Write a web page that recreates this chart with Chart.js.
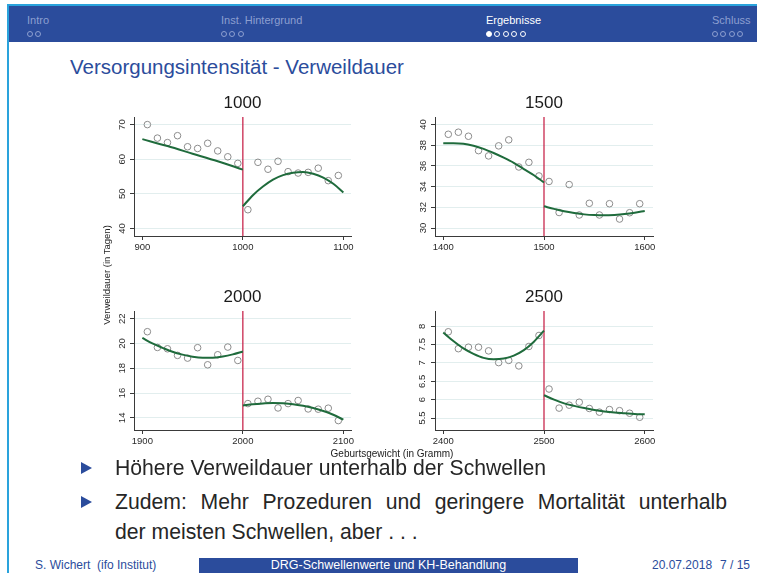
<!DOCTYPE html>
<html>
<head>
<meta charset="utf-8">
<script src="https://cdn.jsdelivr.net/npm/chart.js@4.4.0/dist/chart.umd.min.js"></script>
<style>
  html, body { margin: 0; padding: 0; }
  body { width: 757px; height: 573px; position: relative; overflow: hidden; background: #fff;
         font-family: "Liberation Sans", Arial, sans-serif; }
  .frameTop { position: absolute; left: 7px; top: 4px; width: 750px; height: 2px; background: #2aa3dc; }
  .frameLeft { position: absolute; left: 7px; top: 4px; width: 2px; height: 569px; background: #2aa3dc; }
  .head { position: absolute; left: 9px; top: 6px; width: 748px; height: 36px; background: #2b4c9c; }
  .nav { position: absolute; top: 14px; font-size: 11px; line-height: 13px; color: #8d9fd0; white-space: nowrap; }
  .nav.on { color: #fff; }
  .dots { height: 8px; margin-top: 4px; }
  .dot { display: inline-block; width: 6px; height: 6px; box-sizing: border-box; border: 1px solid currentColor;
         border-radius: 50%; margin-right: 2.4px; vertical-align: top; }
  .dot.full { background: currentColor; }
  .title { position: absolute; left: 70px; top: 54px; font-size: 20.5px; line-height: 26px; color: #2b4c9c; white-space: nowrap; }
  canvas { position: absolute; }
  .ylab { position: absolute; left: 106px; top: 275px; font-size: 9.5px; color: #222; white-space: nowrap;
          transform: translate(-50%, -50%) rotate(-90deg); }
  .xlab { position: absolute; left: 392px; top: 453px; font-size: 10px; color: #222; white-space: nowrap;
          transform: translate(-50%, -50%); }
  .bullet { position: absolute; width: 0; height: 0; border-left: 11px solid #2b4c9c;
            border-top: 6px solid transparent; border-bottom: 6px solid transparent; }
  .txt { position: absolute; left: 115px; font-size: 21.2px; line-height: 28px; color: #262626; white-space: nowrap; }
  .foot { position: absolute; top: 558px; font-size: 12px; line-height: 15px; color: #2b4c9c; white-space: nowrap; }
  .footBox { position: absolute; left: 199px; top: 558px; width: 379px; height: 15px; background: #2b4c9c;
             color: #fff; font-size: 12.5px; line-height: 15px; text-align: center; }
</style>
</head>
<body>
<div class="frameTop"></div>
<div class="frameLeft"></div>
<div class="head"></div>
<div class="nav" style="left:27px">Intro<div class="dots"><span class="dot"></span><span class="dot"></span></div></div>
<div class="nav" style="left:221px">Inst. Hintergrund<div class="dots"><span class="dot"></span><span class="dot"></span><span class="dot"></span></div></div>
<div class="nav on" style="left:486px">Ergebnisse<div class="dots"><span class="dot full"></span><span class="dot"></span><span class="dot"></span><span class="dot"></span><span class="dot"></span></div></div>
<div class="nav" style="left:712px">Schluss<div class="dots"><span class="dot"></span><span class="dot"></span><span class="dot"></span><span class="dot"></span></div></div>

<div class="title">Versorgungsintensität - Verweildauer</div>

<canvas id="c1000"></canvas>
<canvas id="c1500"></canvas>
<canvas id="c2000"></canvas>
<canvas id="c2500"></canvas>
<div class="ylab">Verweildauer (in Tagen)</div>
<div class="xlab">Geburtsgewicht (in Gramm)</div>

<div class="bullet" style="left:81px; top:462px"></div>
<div class="txt" style="top:454px">Höhere Verweildauer unterhalb der Schwellen</div>
<div class="bullet" style="left:81px; top:496px"></div>
<div class="txt" style="top:488px; width:612px; text-align:justify; text-align-last:justify">Zudem: Mehr Prozeduren und geringere Mortalität unterhalb</div>
<div class="txt" style="top:518px">der meisten Schwellen, aber . . .</div>

<div class="foot" style="left:35px">S. Wichert&nbsp; (ifo Institut)</div>
<div class="footBox">DRG-Schwellenwerte und KH-Behandlung</div>
<div class="foot" style="left:652px">20.07.2018</div>
<div class="foot" style="left:720px">7 / 15</div>

<script>
// Schwelle 1000 g
const bins1000 = [905, 915, 925, 935, 945, 955, 965, 975, 985, 995, 1005, 1015, 1025, 1035, 1045, 1055, 1065, 1075, 1085, 1095];
const dauer1000 = [70.0, 66.1, 64.8, 66.8, 63.6, 63.1, 64.6, 62.4, 60.7, 58.8, 45.4, 59.1, 57.1, 59.4, 56.4, 56.0, 56.2, 57.4, 53.8, 55.3];
const fitLx1000 = [900, 925, 950, 975, 1000];
const fitLy1000 = [65.8, 63.8, 61.6, 59.4, 57.0];
const fitRx1000 = [1000, 1010, 1020, 1030, 1040, 1050, 1060, 1070, 1080, 1090, 1100];
const fitRy1000 = [46.4, 49.6, 52.1, 54.1, 55.4, 56.1, 56.3, 55.8, 54.7, 52.9, 50.4];
const xTicks1000 = [900, 1000, 1100];
const yTicks1000 = [40, 50, 60, 70];

// Schwelle 1500 g
const bins1500 = [1405, 1415, 1425, 1435, 1445, 1455, 1465, 1475, 1485, 1495, 1505, 1515, 1525, 1535, 1545, 1555, 1565, 1575, 1585, 1595];
const dauer1500 = [39.06, 39.26, 38.87, 37.48, 36.97, 37.94, 38.52, 35.9, 36.35, 35.03, 34.5, 31.5, 34.2, 31.26, 32.39, 31.26, 32.35, 30.87, 31.48, 32.35];
const fitLx1500 = [1400, 1410, 1420, 1430, 1440, 1450, 1460, 1470, 1480, 1490, 1500];
const fitLy1500 = [38.2, 38.2, 38.15, 37.95, 37.65, 37.25, 36.8, 36.3, 35.7, 35.1, 34.4];
const fitRx1500 = [1500, 1510, 1520, 1530, 1540, 1550, 1560, 1570, 1580, 1590, 1600];
const fitRy1500 = [32.1, 31.85, 31.62, 31.45, 31.32, 31.25, 31.23, 31.27, 31.35, 31.48, 31.65];
const xTicks1500 = [1400, 1500, 1600];
const yTicks1500 = [30, 32, 34, 36, 38, 40];

// Schwelle 2000 g
const bins2000 = [1905, 1915, 1925, 1935, 1945, 1955, 1965, 1975, 1985, 1995, 2005, 2015, 2025, 2035, 2045, 2055, 2065, 2075, 2085, 2095];
const dauer2000 = [20.95, 19.68, 19.57, 19.04, 18.82, 19.66, 18.28, 19.09, 19.71, 18.63, 15.15, 15.34, 15.5, 14.8, 15.15, 15.4, 14.72, 14.7, 14.78, 13.78];
const fitLx2000 = [1900, 1910, 1920, 1930, 1940, 1950, 1960, 1970, 1980, 1990, 2000];
const fitLy2000 = [20.45, 20.0, 19.65, 19.33, 19.1, 18.93, 18.85, 18.85, 18.95, 19.12, 19.35];
const fitRx2000 = [2000, 2010, 2020, 2030, 2040, 2050, 2060, 2070, 2080, 2090, 2100];
const fitRy2000 = [15.0, 15.1, 15.16, 15.2, 15.17, 15.1, 14.97, 14.8, 14.55, 14.25, 13.85];
const xTicks2000 = [1900, 2000, 2100];
const yTicks2000 = [14, 16, 18, 20, 22];

// Schwelle 2500 g
const bins2500 = [2405, 2415, 2425, 2435, 2445, 2455, 2465, 2475, 2485, 2495, 2505, 2515, 2525, 2535, 2545, 2555, 2565, 2575, 2585, 2595];
const dauer2500 = [7.85, 7.39, 7.43, 7.43, 7.33, 7.01, 7.07, 6.92, 7.45, 7.75, 6.29, 5.77, 5.85, 5.93, 5.76, 5.66, 5.73, 5.70, 5.63, 5.52];
const fitLx2500 = [2400, 2410, 2420, 2430, 2440, 2450, 2460, 2470, 2480, 2490, 2500];
const fitLy2500 = [7.83, 7.6, 7.4, 7.25, 7.14, 7.1, 7.12, 7.2, 7.35, 7.58, 7.88];
const fitRx2500 = [2500, 2510, 2520, 2530, 2540, 2550, 2560, 2570, 2580, 2590, 2600];
const fitRy2500 = [6.12, 6.0, 5.9, 5.83, 5.77, 5.72, 5.68, 5.65, 5.63, 5.61, 5.6];
const xTicks2500 = [2400, 2500, 2600];
const yTicks2500 = [5.5, 6, 6.5, 7, 7.5, 8];

const GREEN = '#1f6b3c';
const RED = '#c4163f';
const AXIS = '#3a3a3a';
const GRID = '#e2eeee';
const FONT = '"Liberation Sans", Arial, sans-serif';

const zip = (xs, ys) => xs.map((x, i) => ({ x: x, y: ys[i] }));

// title over the plot region, like stata's subgraph titles
const panelTitle = {
  id: 'panelTitle',
  afterDraw(chart, args, opts) {
    const { ctx, chartArea } = chart;
    ctx.save();
    ctx.font = '17px ' + FONT;
    ctx.fillStyle = '#1a1a1a';
    ctx.textAlign = 'center';
    ctx.textBaseline = 'middle';
    ctx.fillText(opts.text, (chartArea.left + chartArea.right) / 2, chartArea.top - 14);
    ctx.restore();
  }
};

function makePanel(id, p) {
  const cv = document.getElementById(id);
  const yw = 40, padTop = 30, padRight = 24, xh = 20;
  const [l, t, r, b] = p.box;
  const w = Math.round(r - l + yw + padRight);
  const h = Math.round(b - t + padTop + xh);
  cv.style.left = Math.round(l - yw) + 'px';
  cv.style.top = Math.round(t - padTop) + 'px';
  cv.width = w; cv.height = h;
  cv.style.width = w + 'px'; cv.style.height = h + 'px';

  new Chart(cv, {
    type: 'scatter',
    data: {
      datasets: [
        { data: zip(p.fitLx, p.fitLy), showLine: true, borderColor: GREEN, borderWidth: 2,
          pointRadius: 0, cubicInterpolationMode: 'monotone' },
        { data: zip(p.fitRx, p.fitRy), showLine: true, borderColor: GREEN, borderWidth: 2,
          pointRadius: 0, cubicInterpolationMode: 'monotone' },
        { data: zip(p.binX, p.binY), pointRadius: 3.3, pointBorderWidth: 1,
          pointBorderColor: '#8c8c8c', pointBackgroundColor: 'rgba(0,0,0,0)' },
        { data: [{ x: p.cut, y: p.yMin }, { x: p.cut, y: p.yMax }], showLine: true,
          borderColor: RED, borderWidth: 1.2, pointRadius: 0 }
      ]
    },
    options: {
      responsive: false,
      animation: false,
      devicePixelRatio: 1,
      layout: { padding: { top: padTop, right: padRight, left: 0, bottom: 0 } },
      plugins: {
        legend: { display: false },
        tooltip: { enabled: false },
        panelTitle: { text: p.title }
      },
      scales: {
        x: {
          type: 'linear', min: p.xMin, max: p.xMax,
          afterBuildTicks: ax => { ax.ticks = p.xTicks.map(v => ({ value: v })); },
          afterFit: s => { s.height = xh; },
          grid: { drawOnChartArea: false, tickLength: 4, tickColor: AXIS },
          border: { color: AXIS, width: 1 },
          ticks: { color: '#2a2a2a', font: { family: FONT, size: 9.5 }, padding: 2, maxRotation: 0, autoSkip: false,
                   callback: v => String(v) }
        },
        y: {
          type: 'linear', min: p.yMin, max: p.yMax,
          afterBuildTicks: ax => { ax.ticks = p.yTicks.map(v => ({ value: v })); },
          afterFit: s => { s.width = yw; },
          grid: { color: GRID, lineWidth: 1, tickLength: 4, tickColor: AXIS },
          border: { color: AXIS, width: 1 },
          ticks: { color: '#2a2a2a', font: { family: FONT, size: 9.5 }, padding: 2,
                   minRotation: 90, maxRotation: 90, crossAlign: 'center', autoSkip: false,
                   callback: v => String(v) }
        }
      }
    },
    plugins: [panelTitle]
  });
}

makePanel('c1000', { title: '1000', cut: 1000, box: [134.3, 116.7, 351.7, 235.5],
  xMin: 891.7, xMax: 1107.6, yMin: 37.8, yMax: 72.2,
  binX: bins1000, binY: dauer1000, fitLx: fitLx1000, fitLy: fitLy1000, fitRx: fitRx1000, fitRy: fitRy1000,
  xTicks: xTicks1000, yTicks: yTicks1000 });
makePanel('c1500', { title: '1500', cut: 1500, box: [435, 116.7, 653, 235.5],
  xMin: 1391.8, xMax: 1608.2, yMin: 29.23, yMax: 40.73,
  binX: bins1500, binY: dauer1500, fitLx: fitLx1500, fitLy: fitLy1500, fitRx: fitRx1500, fitRy: fitRy1500,
  xTicks: xTicks1500, yTicks: yTicks1500 });
makePanel('c2000', { title: '2000', cut: 2000, box: [134.3, 311, 351.7, 430],
  xMin: 1891.7, xMax: 2107.6, yMin: 13.02, yMax: 22.62,
  binX: bins2000, binY: dauer2000, fitLx: fitLx2000, fitLy: fitLy2000, fitRx: fitRx2000, fitRy: fitRy2000,
  xTicks: xTicks2000, yTicks: yTicks2000 });
makePanel('c2500', { title: '2500', cut: 2500, box: [435, 311, 653, 430],
  xMin: 2391.8, xMax: 2608.2, yMin: 5.173, yMax: 8.417,
  binX: bins2500, binY: dauer2500, fitLx: fitLx2500, fitLy: fitLy2500, fitRx: fitRx2500, fitRy: fitRy2500,
  xTicks: xTicks2500, yTicks: yTicks2500 });
</script>
</body>
</html>
